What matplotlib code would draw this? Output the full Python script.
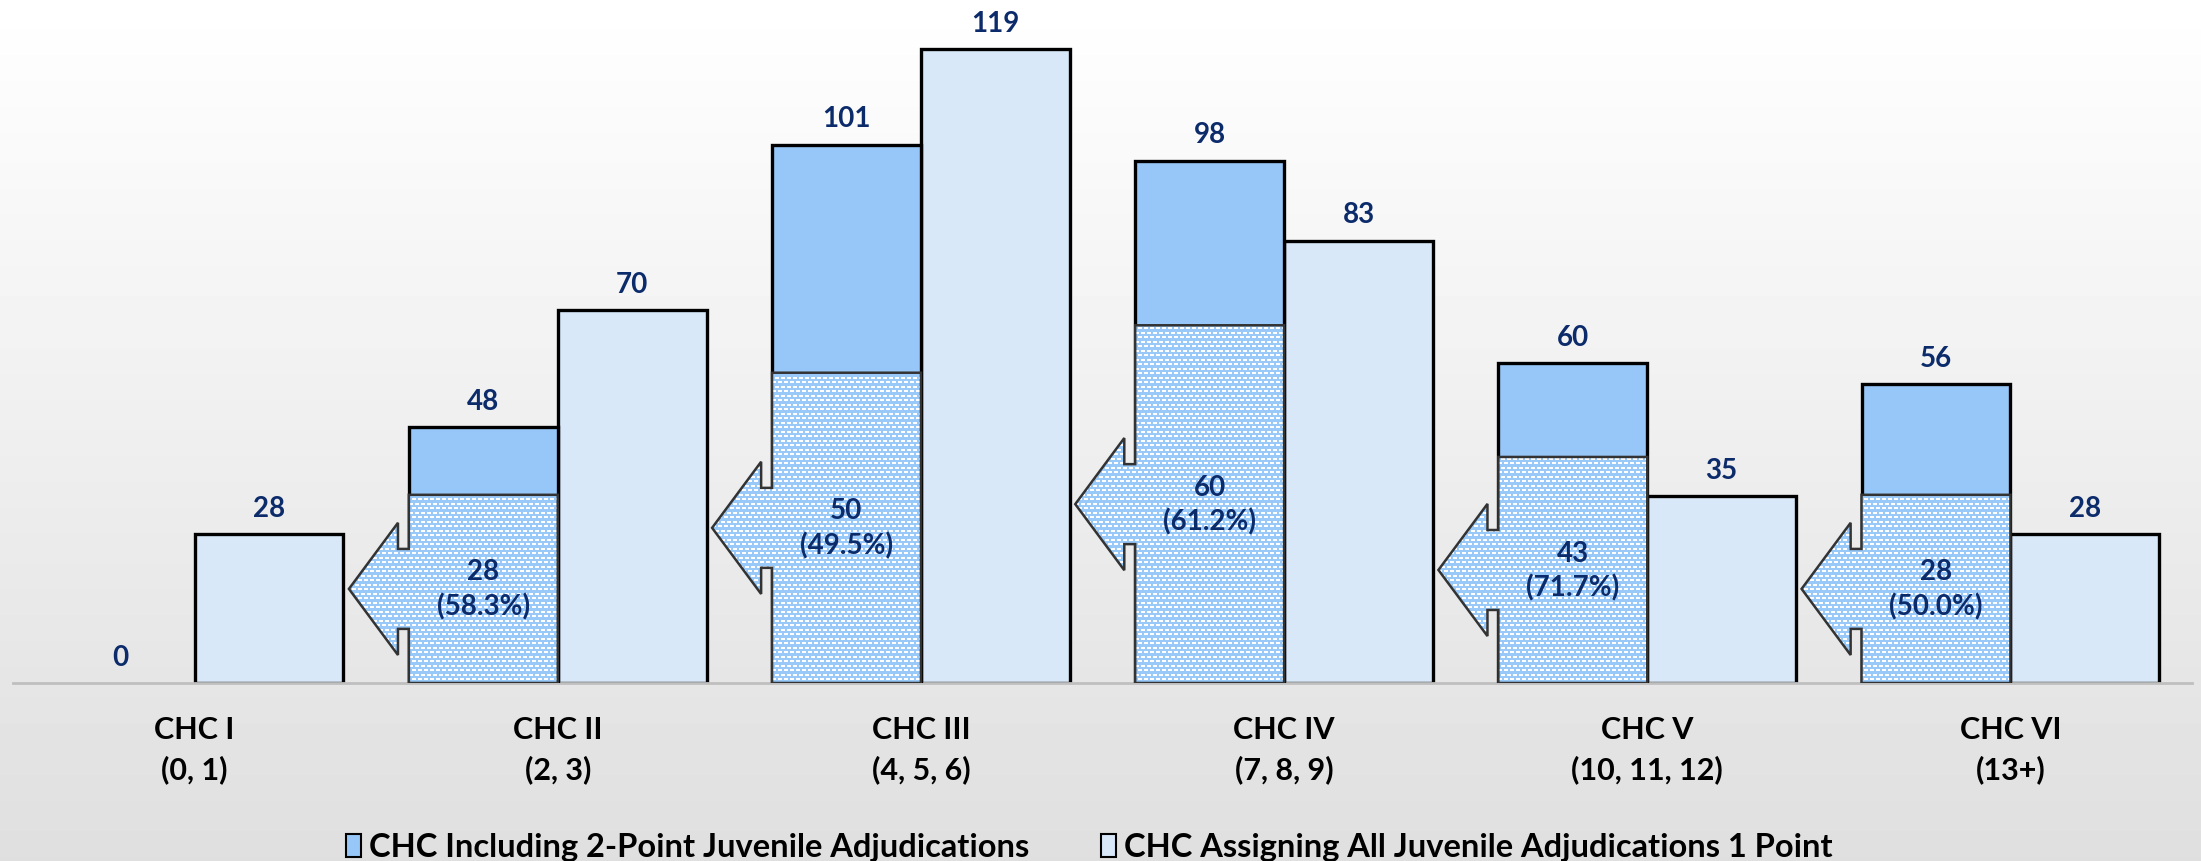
import numpy as np
import matplotlib
matplotlib.use('Agg')
import matplotlib.pyplot as plt
from matplotlib.patches import Polygon, Patch

plt.rcParams['font.family'] = ['Lato', 'DejaVu Sans']
plt.rcParams['font.weight'] = 'bold'

# データ
categories = ['CHC I\n(0, 1)', 'CHC II\n(2, 3)', 'CHC III\n(4, 5, 6)',
              'CHC IV\n(7, 8, 9)', 'CHC V\n(10, 11, 12)', 'CHC VI\n(13+)']
two_point = [0, 48, 101, 98, 60, 56]
one_point = [28, 70, 119, 83, 35, 28]
moved = [0, 28, 50, 60, 43, 28]
# height of the hatched arrow overlay as drawn in the picture
overlay_top = [0, 35.3, 58.2, 67.1, 42.4, 35.3]

label_names = ['CHC Including 2-Point Juvenile Adjudications',
               'CHC Assigning All Juvenile Adjudications 1 Point']

dark_blue = '#0C2B6B'
blue = '#97C7F8'
light_blue = '#D8E8F8'

W, H = 2201, 862
fig = plt.figure(figsize=(W / 100, H / 100), dpi=100)

# 背景のグラデーション
bg = fig.add_axes([0, 0, 1, 1], zorder=0)
grad = np.linspace(255, 223, 200)[:, None] / 255.0
bg.imshow(np.repeat(grad, 2, axis=1), cmap='gray', vmin=0, vmax=1,
          aspect='auto', extent=[0, 1, 0, 1])
bg.axis('off')

ax_l, ax_b, ax_w, ax_h = 13, 178, 2179, 684
ax = fig.add_axes([ax_l / W, ax_b / H, ax_w / W, ax_h / H], zorder=1)
ax.set_facecolor('none')
xlim = (-0.5, 5.5)
ylim = (0, 128.3)

x = np.arange(len(categories))
w = 0.41

ax.bar(x, one_point, width=w, align='edge', color=light_blue,
       edgecolor='black', linewidth=[2.4 if v else 0 for v in one_point],
       zorder=2)
ax.bar(x - w, two_point, width=w, align='edge', color=blue,
       edgecolor='black', linewidth=[2.4 if v else 0 for v in two_point],
       zorder=3)

# texture for the arrow overlay
tile = np.zeros((9, 6), dtype=bool)
tile[0:2, 0:4] = True
tile[4:6, [3, 4, 5, 0]] = True
mask = np.tile(tile, (ax_h // 9 + 1, ax_w // 6 + 1))[:ax_h, :ax_w]
tex = np.empty(mask.shape + (3,))
tex[:] = np.array([0x99, 0xC9, 0xF9]) / 255.0
tex[mask] = 1.0

notch = 0.03
head = 0.135
shaft = 7.5
head_h = 12.4
for i in x[1:]:
    h = overlay_top[i]
    c = h / 2
    xl = i - w
    pts = [(xl, 0), (xl, c - shaft), (xl - notch, c - shaft),
           (xl - notch, c - head_h), (xl - notch - head, c),
           (xl - notch, c + head_h), (xl - notch, c + shaft),
           (xl, c + shaft), (xl, h), (i, h), (i, 0)]
    poly = Polygon(pts, closed=True, facecolor='none', edgecolor='#333333',
                   linewidth=1.8, zorder=5)
    ax.add_patch(poly)
    im = ax.imshow(tex, extent=[xlim[0], xlim[1], ylim[0], ylim[1]],
                   aspect='auto', interpolation='nearest', zorder=4)
    im.set_clip_path(poly)
    ax.text(i - w / 2, c, f'{moved[i]}\n({moved[i] / two_point[i] * 100:.1f}%)',
            ha='center', va='center', fontsize=20, color=dark_blue,
            linespacing=1.35, zorder=6)

for i in x:
    ax.annotate(str(two_point[i]), (i - w / 2, two_point[i]), xytext=(0, 13),
                textcoords='offset points', ha='center', va='baseline',
                fontsize=20, color=dark_blue, zorder=6)
    ax.annotate(str(one_point[i]), (i + w / 2, one_point[i]), xytext=(0, 13),
                textcoords='offset points', ha='center', va='baseline',
                fontsize=20, color=dark_blue, zorder=6)

ax.set_xlim(xlim)
ax.set_ylim(ylim)
ax.set_yticks([])
ax.set_xticks(x)
ax.set_xticklabels(categories, fontsize=22, color='black', linespacing=1.48)
ax.tick_params(axis='x', length=0, pad=23)
for s in ['top', 'left', 'right']:
    ax.spines[s].set_visible(False)
ax.spines['bottom'].set_color('#BFBFBF')
ax.spines['bottom'].set_linewidth(2)

handles = [Patch(facecolor=blue, edgecolor='black', linewidth=1.5),
           Patch(facecolor=light_blue, edgecolor='black', linewidth=1.5)]
fig.legend(handles, label_names, loc='center', bbox_to_anchor=(0.495, 14 / H),
           ncol=2, frameon=False, fontsize=23.5, handlelength=0.45,
           handleheight=0.7, handletextpad=0.25, columnspacing=2.2,
           borderaxespad=0, borderpad=0)

fig.savefig('out.png', dpi=100)
